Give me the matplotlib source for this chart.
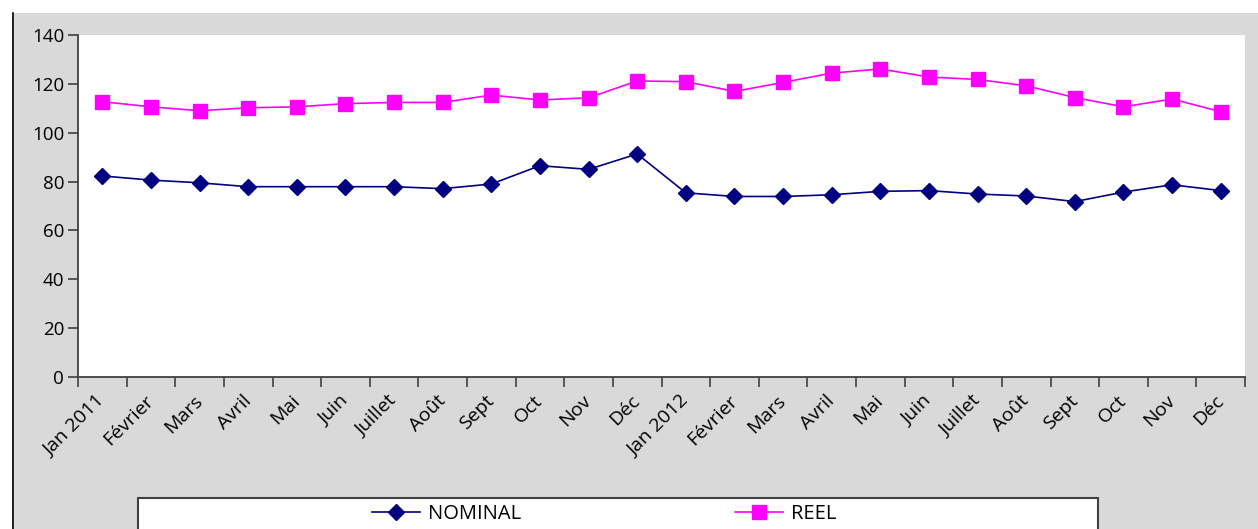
import matplotlib
matplotlib.use("Agg")
import matplotlib.pyplot as plt
from matplotlib.patches import Rectangle
from matplotlib.lines import Line2D

plt.rcParams['font.family'] = ['Open Sans', 'DejaVu Sans']

months = ["Jan 2011", "Février", "Mars", "Avril", "Mai", "Juin", "Juillet", "Août",
          "Sept", "Oct", "Nov", "Déc",
          "Jan 2012", "Février", "Mars", "Avril", "Mai", "Juin", "Juillet", "Août",
          "Sept", "Oct", "Nov", "Déc"]

nominal = [82.3, 80.6, 79.5, 77.9, 77.9, 77.9, 77.9, 77.1, 79.0, 86.5, 85.0, 91.3,
           75.4, 73.9, 73.9, 74.6, 76.0, 76.3, 74.9, 74.1, 71.8, 75.7, 78.7, 76.3]

reel = [112.7, 110.6, 109.0, 110.2, 110.6, 111.9, 112.4, 112.4, 115.4, 113.4, 114.3, 121.2,
        120.9, 116.9, 120.6, 124.4, 126.1, 122.8, 121.8, 119.2, 114.4, 110.6, 113.8, 108.6]

y_ticks = [0, 20, 40, 60, 80, 100, 120, 140]

W, H = 1258, 529
fig = plt.figure(figsize=(W / 100, H / 100), dpi=100)
fig.patch.set_facecolor("white")

# grey chart area with its left border
fig.patches.append(Rectangle((12 / W, 0), 1, (H - 13) / H, transform=fig.transFigure,
                             facecolor="#d9d9d9", edgecolor="none", zorder=-2))
fig.add_artist(Line2D([12.5 / W, 12.5 / W], [0, (H - 13) / H], transform=fig.transFigure,
                      color="#000000", linewidth=1.2, zorder=-1))

# legend box
fig.patches.append(Rectangle((138 / W, -0.05), (1098 - 138) / W, 0.05 + (H - 498) / H,
                             transform=fig.transFigure, facecolor="white",
                             edgecolor="#404040", linewidth=1.5, zorder=-1))

ax = fig.add_axes([78 / W, (H - 377) / H, (1245 - 78) / W, (377 - 35) / H])
ax.set_facecolor("white")

x = list(range(len(months)))
l1, = ax.plot(x, nominal, color="#000080", linewidth=1.2, marker="D", markersize=8,
              markeredgecolor="#000080", markerfacecolor="#000080", label="NOMINAL")
l2, = ax.plot(x, reel, color="#ff00ff", linewidth=1.2, marker="s", markersize=9.5,
              markeredgecolor="#ff00ff", markerfacecolor="#ff00ff", label="REEL")

ax.set_xlim(-0.5, len(months) - 0.5)
ax.set_ylim(0, 140)
ax.set_yticks(y_ticks)
ax.set_yticklabels([str(v) for v in y_ticks])

ax.set_xticks([i - 0.5 for i in range(len(months) + 1)])
ax.set_xticklabels([])
ax.set_xticks(x, minor=True)
ax.set_xticklabels(months, minor=True, rotation=45, ha="right", va="center",
                   rotation_mode="anchor")

ax.tick_params(axis="x", which="major", direction="out", length=7, width=1.2, color="#404040")
ax.tick_params(axis="x", which="minor", length=0, pad=15, labelsize=14)
ax.tick_params(axis="y", direction="out", length=7, width=1.2, color="#404040",
               labelsize=13.5, pad=3)

for side in ("top", "right"):
    ax.spines[side].set_visible(False)
for side in ("left", "bottom"):
    ax.spines[side].set_color("#404040")
    ax.spines[side].set_linewidth(1.3)

fig.legend(handles=[l1, l2], loc="center left", bbox_to_anchor=(372 / W, 15 / H),
           ncol=2, frameon=False, fontsize=14.5, handlelength=2.4, handletextpad=0.4,
           columnspacing=10.6, borderpad=0, borderaxespad=0)

fig.savefig("out.png", dpi=100, facecolor=fig.get_facecolor())
